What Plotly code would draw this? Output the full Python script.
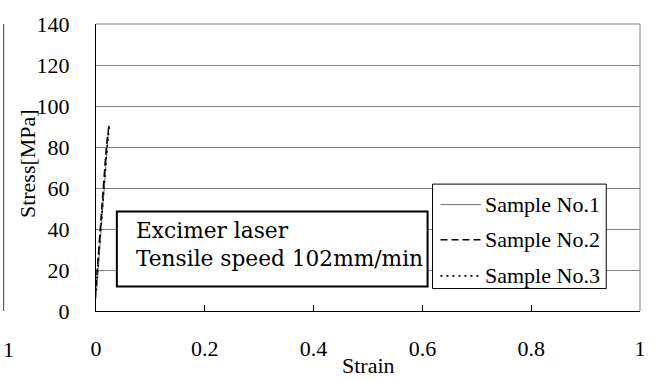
import plotly.graph_objects as go

# Data
s1_strain = [0.0, 0.005, 0.010, 0.015, 0.020, 0.023]
s1_stress = [6, 24, 43, 61, 79, 88]
s2_strain = [0.0, 0.004, 0.009, 0.014, 0.019, 0.024]
s2_stress = [12, 27, 46, 64, 80, 91]
s3_strain = [0.0, 0.005, 0.010, 0.015, 0.020, 0.024]
s3_stress = [10, 26, 45, 62, 79, 90]

series_names = ["Sample No.1", "Sample No.2", "Sample No.3"]
note_lines = ["Excimer laser", "Tensile speed 102mm/min"]
x_ticks = [0, 0.2, 0.4, 0.6, 0.8, 1]
x_ticklabels = ["0", "0.2", "0.4", "0.6", "0.8", "1"]
y_ticks = [0, 20, 40, 60, 80, 100, 120, 140]

FONT = "Liberation Serif"
FS = 22

styles = [dict(color="#707070", width=1, dash="solid"),
          dict(color="black", width=1.5, dash="7px,4px"),
          dict(color="black", width=1.8, dash="2px,4px")]

fig = go.Figure()
for xs, ys, nm, st in zip([s1_strain, s2_strain, s3_strain],
                          [s1_stress, s2_stress, s3_stress], series_names, styles):
    fig.add_trace(go.Scatter(x=xs, y=ys, mode="lines", name=nm, line=st, showlegend=False))

W, H = 658, 381
L, R, T, B = 96, 14, 17, 70
pw = W - L - R
ph = H - T - B

def px2x(px):
    return (px - L) / pw

def py2y(py):
    return (H - B - py) / ph

shapes = [
    # gray top/right frame
    dict(type="line", xref="paper", yref="paper", x0=0, x1=1, y0=1, y1=1,
         line=dict(color="#808080", width=1)),
    dict(type="line", xref="paper", yref="paper", x0=1, x1=1, y0=0, y1=1,
         line=dict(color="#808080", width=1)),
    # edge of the neighbouring chart at far left
    dict(type="line", xref="paper", yref="paper", x0=px2x(3), x1=px2x(3), y0=0, y1=1,
         line=dict(color="#404040", width=1)),
    # note box
    dict(type="rect", xref="paper", yref="paper", x0=px2x(117), x1=px2x(430),
         y0=py2y(286), y1=py2y(209), fillcolor="white", line=dict(color="black", width=2),
         layer="above"),
    # legend box
    dict(type="rect", xref="paper", yref="paper", x0=px2x(435), x1=px2x(610),
         y0=py2y(288), y1=py2y(181), fillcolor="white", line=dict(color="black", width=1),
         layer="above"),
]
annotations = [
    dict(text="Strain", xref="paper", yref="paper", x=0.5, y=py2y(367),
         xanchor="center", yanchor="middle", showarrow=False,
         font=dict(family=FONT, size=FS)),
    dict(text="Stress[MPa]", xref="paper", yref="paper", x=px2x(27), y=py2y(160),
         xanchor="center", yanchor="middle", textangle=-90, showarrow=False,
         font=dict(family=FONT, size=FS)),
    dict(text="1", xref="paper", yref="paper", x=px2x(0), y=py2y(350),
         xanchor="left", yanchor="middle", showarrow=False,
         font=dict(family=FONT, size=FS)),
]
for txt, ly in zip(note_lines, [229, 257]):
    annotations.append(dict(text=txt, xref="paper", yref="paper", x=px2x(134), y=py2y(ly),
                            xanchor="left", yanchor="middle", showarrow=False,
                            font=dict(family="DejaVu Serif", size=21.7)))
row_y = [202, 238, 275]
for nm, st, ry in zip(series_names, styles, row_y):
    shapes.append(dict(type="line", xref="paper", yref="paper",
                       x0=px2x(443), x1=px2x(484), y0=py2y(ry), y1=py2y(ry),
                       line=st, layer="above"))
    annotations.append(dict(text=nm, xref="paper", yref="paper", x=px2x(486), y=py2y(ry),
                            xanchor="left", yanchor="middle", showarrow=False,
                            font=dict(family=FONT, size=FS)))

fig.update_layout(
    width=W, height=H,
    margin=dict(l=L, r=R, t=T, b=B),
    paper_bgcolor="white", plot_bgcolor="white",
    font=dict(family=FONT, size=FS, color="black"),
    showlegend=False,
    xaxis=dict(range=[0, 1], tickvals=x_ticks, ticktext=x_ticklabels,
               showgrid=False, zeroline=False, showline=True, linecolor="black", linewidth=1,
               ticks="inside", ticklen=6, tickcolor="black", ticklabelstandoff=18,
               tickfont=dict(family=FONT, size=FS)),
    yaxis=dict(range=[0, 140], tickvals=y_ticks,
               showgrid=True, gridcolor="#808080", gridwidth=1,
               zeroline=False, showline=True, linecolor="black", linewidth=1,
               ticks="", ticklabelstandoff=21,
               tickfont=dict(family=FONT, size=FS)),
    shapes=shapes,
    annotations=annotations,
)

fig.write_html("out.html")
